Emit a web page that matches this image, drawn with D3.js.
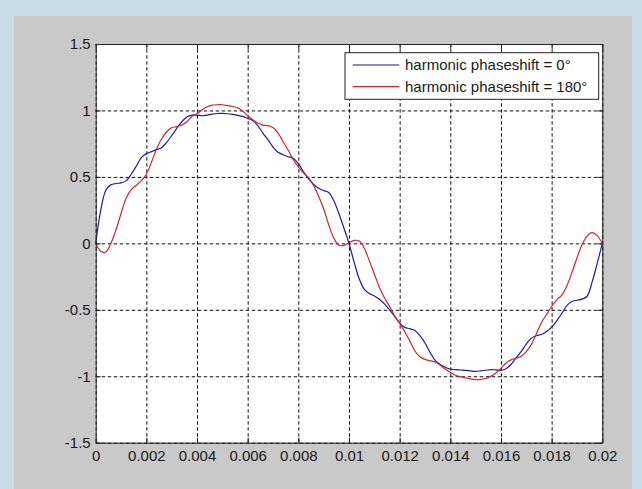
<!DOCTYPE html>
<html>
<head>
<meta charset="utf-8">
<script src="https://cdn.jsdelivr.net/npm/d3@7"></script>
<style>
  body { margin: 0; background: #cadce8; }
  svg { display: block; }
  text { font-family: "Liberation Sans", Arial, sans-serif; }
</style>
</head>
<body>
<svg id="chart" width="642" height="489"></svg>
<script>
// time axis (s), sampled every 0.2 ms
const time = [
  0, 0.0002, 0.0004, 0.0006, 0.0008, 0.0010, 0.0012, 0.0014, 0.0016, 0.0018,
  0.0020, 0.0022, 0.0024, 0.0026, 0.0028, 0.0030, 0.0032, 0.0034, 0.0036, 0.0038,
  0.0040, 0.0042, 0.0044, 0.0046, 0.0048, 0.0050, 0.0052, 0.0054, 0.0056, 0.0058,
  0.0060, 0.0062, 0.0064, 0.0066, 0.0068, 0.0070, 0.0072, 0.0074, 0.0076, 0.0078,
  0.0080, 0.0082, 0.0084, 0.0086, 0.0088, 0.0090, 0.0092, 0.0094, 0.0096, 0.0098,
  0.0100, 0.0102, 0.0104, 0.0106, 0.0108, 0.0110, 0.0112, 0.0114, 0.0116, 0.0118,
  0.0120, 0.0122, 0.0124, 0.0126, 0.0128, 0.0130, 0.0132, 0.0134, 0.0136, 0.0138,
  0.0140, 0.0142, 0.0144, 0.0146, 0.0148, 0.0150, 0.0152, 0.0154, 0.0156, 0.0158,
  0.0160, 0.0162, 0.0164, 0.0166, 0.0168, 0.0170, 0.0172, 0.0174, 0.0176, 0.0178,
  0.0180, 0.0182, 0.0184, 0.0186, 0.0188, 0.0190, 0.0192, 0.0194, 0.0196, 0.0198,
  0.0200
];

// harmonic phaseshift = 0°
const shift0 = [
  0, 0.25, 0.40, 0.44, 0.45, 0.455, 0.47, 0.52, 0.58, 0.645,
  0.675, 0.69, 0.705, 0.72, 0.76, 0.81, 0.865, 0.915, 0.95, 0.965,
  0.965, 0.96, 0.965, 0.972, 0.977, 0.978, 0.975, 0.97, 0.963, 0.955,
  0.94, 0.925, 0.885, 0.83, 0.78, 0.725, 0.685, 0.667, 0.652, 0.64,
  0.60, 0.54, 0.487, 0.445, 0.415, 0.397, 0.383, 0.32, 0.225, 0.115,
  0, -0.14, -0.265, -0.345, -0.378, -0.396, -0.42, -0.455, -0.50, -0.55,
  -0.60, -0.632, -0.642, -0.655, -0.695, -0.75, -0.82, -0.88, -0.912, -0.932,
  -0.946, -0.95, -0.953, -0.956, -0.96, -0.963, -0.96, -0.955, -0.95, -0.952,
  -0.955, -0.943, -0.91, -0.862, -0.813, -0.758, -0.713, -0.695, -0.686, -0.664,
  -0.63, -0.583, -0.528, -0.468, -0.437, -0.428, -0.42, -0.398, -0.29, -0.15,
  0
];

// harmonic phaseshift = 180°
const shift180 = [
  0, -0.06, -0.065, 0, 0.1, 0.225, 0.34, 0.405, 0.435, 0.47,
  0.52, 0.61, 0.71, 0.785, 0.84, 0.87, 0.878, 0.89, 0.915, 0.955,
  0.975, 1.005, 1.028, 1.04, 1.043, 1.043, 1.037, 1.03, 1.02, 0.995,
  0.96, 0.93, 0.905, 0.89, 0.886, 0.872, 0.83, 0.765, 0.70, 0.63,
  0.575, 0.53, 0.495, 0.435, 0.355, 0.26, 0.14, 0.04, -0.015, -0.015,
  0.005, 0.022, 0.018, -0.035, -0.13, -0.23, -0.33, -0.41, -0.475, -0.545,
  -0.60, -0.665, -0.735, -0.81, -0.853, -0.873, -0.883, -0.893, -0.918, -0.945,
  -0.97, -0.993, -1.003, -1.012, -1.02, -1.025, -1.024, -1.017, -1.0, -0.975,
  -0.94, -0.9, -0.877, -0.864, -0.85, -0.815, -0.76, -0.68, -0.595, -0.535,
  -0.475, -0.425, -0.39, -0.32, -0.22, -0.11, -0.01, 0.055, 0.08, 0.058,
  0
];

const xTicks = [0, 0.002, 0.004, 0.006, 0.008, 0.01, 0.012, 0.014, 0.016, 0.018, 0.02];
const xTickLabels = ["0", "0.002", "0.004", "0.006", "0.008", "0.01", "0.012", "0.014", "0.016", "0.018", "0.02"];
const yTicks = [-1.5, -1, -0.5, 0, 0.5, 1, 1.5];
const yTickLabels = ["-1.5", "-1", "-0.5", "0", "0.5", "1", "1.5"];
const seriesNames = ["harmonic phaseshift = 0°", "harmonic phaseshift = 180°"];
const seriesColors = ["#1c1ca0", "#d02626"];

const svg = d3.select("#chart");

// gray figure panel
svg.append("rect")
  .attr("x", 14).attr("y", 16)
  .attr("width", 618).attr("height", 473)
  .attr("fill", "#c9c9c9");

const margin = { left: 95.7, top: 44 },
  width = 506.6,
  height = 398.7;

const g = svg.append("g")
  .attr("transform", `translate(${margin.left},${margin.top})`);

const x = d3.scaleLinear().domain([0, 0.02]).range([0, width]);
const y = d3.scaleLinear().domain([-1.5, 1.5]).range([height, 0]);

g.append("rect")
  .attr("width", width).attr("height", height)
  .attr("fill", "white");

// dashed grid
g.append("g")
  .attr("class", "grid")
  .attr("transform", `translate(0,${height})`)
  .call(d3.axisBottom(x).tickValues(xTicks).tickSize(-height).tickFormat(""));
g.append("g")
  .attr("class", "grid")
  .call(d3.axisLeft(y).tickValues(yTicks).tickSize(-width).tickFormat(""));
g.selectAll(".grid .domain").remove();
g.selectAll(".grid line")
  .attr("stroke", "#111")
  .attr("stroke-width", 1)
  .attr("stroke-dasharray", "3.5,2.5");

// lines
const line = d3.line()
  .x((d) => x(d[0]))
  .y((d) => y(d[1]))
  .curve(d3.curveCatmullRom.alpha(0.5));

[shift0, shift180].forEach((vals, k) => {
  g.append("path")
    .datum(time.map((t, i) => [t, vals[i]]))
    .attr("fill", "none")
    .attr("stroke", seriesColors[k])
    .attr("stroke-width", 1.2)
    .attr("d", line);
});

// axes with inward ticks
const axisColor = "#222";
const axBottom = g.append("g")
  .attr("transform", `translate(0,${height})`)
  .call(d3.axisBottom(x).tickValues(xTicks)
    .tickFormat((d, i) => xTickLabels[i])
    .tickSizeInner(-5).tickSizeOuter(0).tickPadding(8));
const axTop = g.append("g")
  .call(d3.axisTop(x).tickValues(xTicks).tickFormat("")
    .tickSizeInner(-5).tickSizeOuter(0));
const axLeft = g.append("g")
  .call(d3.axisLeft(y).tickValues(yTicks)
    .tickFormat((d, i) => yTickLabels[i])
    .tickSizeInner(-5).tickSizeOuter(0).tickPadding(5));
const axRight = g.append("g")
  .attr("transform", `translate(${width},0)`)
  .call(d3.axisRight(y).tickValues(yTicks).tickFormat("")
    .tickSizeInner(-5).tickSizeOuter(0));

[axBottom, axTop, axLeft, axRight].forEach((a) => {
  a.select(".domain").attr("stroke", axisColor);
  a.selectAll("line").attr("stroke", axisColor);
  a.selectAll("text")
    .attr("fill", "#1a1a1a")
    .style("font-size", "15px")
    .style("font-family", "'Liberation Sans', Arial, sans-serif");
});

// legend
const legend = g.append("g")
  .attr("transform", `translate(${345 - margin.left},${52.7 - margin.top})`);
legend.append("rect")
  .attr("width", 253.7).attr("height", 46.6)
  .attr("fill", "white")
  .attr("stroke", axisColor)
  .attr("stroke-width", 1);

const item = legend.selectAll(".item")
  .data(seriesNames)
  .join("g")
  .attr("class", "item")
  .attr("transform", (d, i) => `translate(0,${12.3 + i * 21.7})`);
item.append("line")
  .attr("x1", 7.7).attr("x2", 54.3)
  .attr("stroke", (d, i) => seriesColors[i])
  .attr("stroke-width", 1.2);
item.append("text")
  .attr("x", 60)
  .attr("dy", "0.35em")
  .style("font-size", "15px")
  .attr("fill", "#1a1a1a")
  .text((d) => d);
</script>
</body>
</html>
